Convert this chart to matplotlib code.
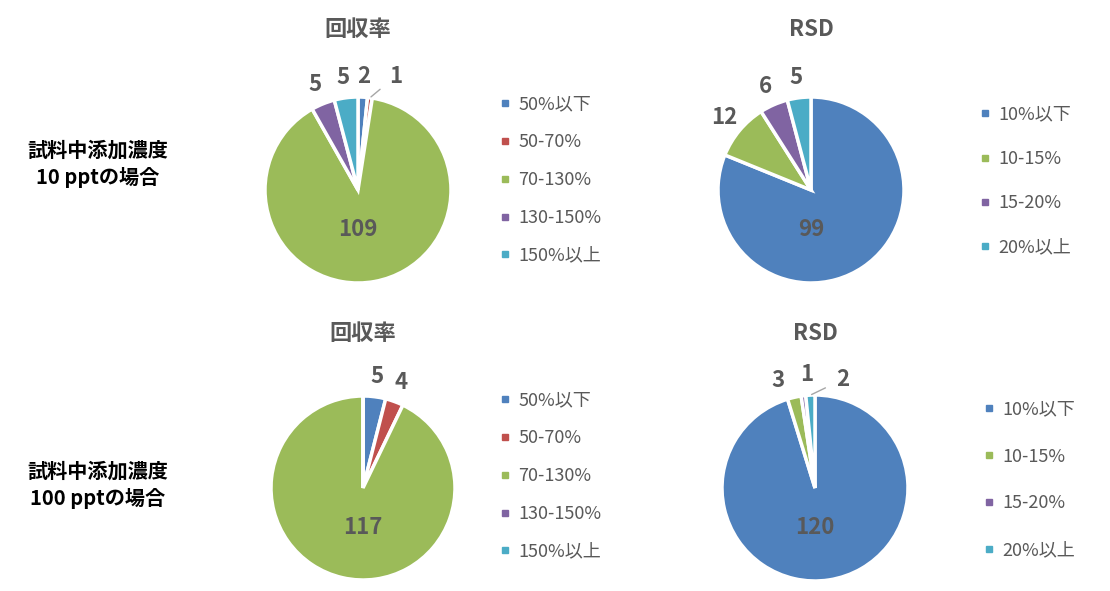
import matplotlib
matplotlib.use('Agg')
import matplotlib.pyplot as plt
import numpy as np
from matplotlib.lines import Line2D

plt.rcParams['font.family'] = ['Noto Sans CJK JP', 'DejaVu Sans']

# data
recovery_labels = ['50%以下', '50-70%', '70-130%', '130-150%', '150%以上']
rsd_labels = ['10%以下', '10-15%', '15-20%', '20%以上']
recovery_colors = ['#4F81BD', '#C0504D', '#9BBB59', '#8064A2', '#4BACC6']
rsd_colors = ['#4F81BD', '#9BBB59', '#8064A2', '#4BACC6']

recovery_10 = [2, 1, 109, 5, 5]
rsd_10 = [99, 12, 6, 5]
recovery_100 = [5, 4, 117, 0, 0]
rsd_100 = [120, 3, 1, 2]

row_labels = ['試料中添加濃度\n10 pptの場合', '試料中添加濃度\n100 pptの場合']

W, H = 1110, 591
GREY = '#595959'

fig = plt.figure(figsize=(W / 100, H / 100), dpi=100)


def draw_pie(cx, cy, r, values, colors, labels, title, leg_x, leg_cy, leg_space,
             leader=None, nudge=None):
    leader = leader or {}
    nudge = nudge or {}
    # axes placed by pixel centre / radius
    ax = fig.add_axes([(cx - r) / W, 1 - (cy + r) / H, 2 * r / W, 2 * r / H])
    wedges, _ = ax.pie(values, colors=colors, startangle=90, counterclock=False,
                       wedgeprops=dict(edgecolor='white', linewidth=2.5))
    ax.set_xlim(-1, 1)
    ax.set_ylim(-1, 1)
    big = int(np.argmax(values))
    for i, (w, v) in enumerate(zip(wedges, values)):
        if v == 0:
            continue
        if i == big:
            ax.text(0, -0.43, str(v), ha='center', va='center', fontsize=16,
                    fontweight='bold', color=GREY)
            continue
        mid = np.deg2rad((w.theta1 + w.theta2) / 2)
        if i in leader:
            off, rr = leader[i]
            a = mid + np.deg2rad(off)
            ax.annotate(str(v), xy=(np.cos(mid), np.sin(mid)),
                        xytext=(rr * np.cos(a), rr * np.sin(a)),
                        ha='center', va='center', fontsize=16, fontweight='bold',
                        color=GREY, annotation_clip=False,
                        arrowprops=dict(arrowstyle='-', color='#A6A6A6', lw=1,
                                        shrinkA=6, shrinkB=1))
        else:
            a = mid + np.deg2rad(nudge.get(i, 0))
            ax.text(1.22 * np.cos(a), 1.22 * np.sin(a), str(v), ha='center',
                    va='center', fontsize=16, fontweight='bold', color=GREY)

    fig.text(cx / W, 1 - 30 / H if cy < 300 else 1 - 333 / H, title, ha='center',
             va='center', fontsize=16, fontweight='bold', color=GREY)

    handles = [Line2D([], [], ls='none', marker='s', markersize=5, color=c) for c in colors]
    fig.legend(handles, labels, loc='center left', bbox_to_anchor=(leg_x / W, 1 - leg_cy / H),
               frameon=False, fontsize=13, labelcolor=GREY, handlelength=0.6,
               handletextpad=0.4, labelspacing=leg_space, borderpad=0, borderaxespad=0)


draw_pie(358, 190, 93, recovery_10, recovery_colors, recovery_labels, '回収率',
         500, 180, 1.1, leader={1: (-11, 1.29)})
draw_pie(811, 190, 93, rsd_10, rsd_colors, rsd_labels, 'RSD', 980, 181, 1.45)
draw_pie(363, 488, 92, recovery_100, recovery_colors, recovery_labels, '回収率',
         500, 476, 1.1)
draw_pie(815, 488, 93, rsd_100, rsd_colors, rsd_labels, 'RSD', 984, 480, 1.6,
         leader={3: (-17, 1.2)}, nudge={1: 6, 2: -3})

fig.text(98 / W, 1 - 164 / H, row_labels[0], ha='center', va='center', fontsize=14.5,
         fontweight='bold', color='black', linespacing=1.35)
fig.text(98 / W, 1 - 485 / H, row_labels[1], ha='center', va='center', fontsize=14.5,
         fontweight='bold', color='black', linespacing=1.35)

fig.savefig('out.png', dpi=100)
